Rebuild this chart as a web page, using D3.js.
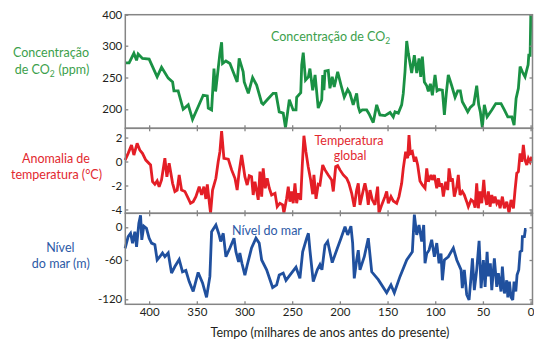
<!DOCTYPE html>
<html><head><meta charset="utf-8">
<script src="https://cdn.jsdelivr.net/npm/d3@7/dist/d3.min.js"></script>
<style>html,body{margin:0;padding:0;background:#fff}svg{display:block}</style>
</head><body>
<svg id="c" width="534" height="339"></svg>
<script>
// ---- data (age in thousand years before present, value) ----
const xTicks = [400, 350, 300, 250, 200, 150, 100, 50, 0];
const co2Ticks = [200, 250, 300, 400];
const tempTicks = [2, 0, -2, -4];
const seaTicks = [0, -60, -120];

const co2Data = [[425.2,273],[421,273],[416,288],[413.2,277],[411.5,287],[407,280],[400,279],[391.6,251],[387,266],[380,249],[375.4,243],[374,229],[369.6,229],[364.3,200],[359,207],[354.5,184],[348.6,204],[343.3,222],[339,221],[338,202],[334.5,199],[332,264],[330.3,228],[325.8,288],[324,311],[323,272],[319.5,276],[315.3,272],[307.7,243],[305.6,280],[301.4,259],[300.3,243],[296,225],[291.5,250],[287.3,238],[282,210],[280.4,208],[275,217],[270,225],[267,225],[263.6,196],[259.4,194],[257,171],[253,215],[249,199],[246,199],[245.3,219],[241,226],[240,270],[238.4,289],[236,246],[233,251],[231.4,264],[228.5,230],[226,254],[222.7,202],[219,215],[218,254],[216.7,230],[215.6,260],[212.2,261],[210.4,233],[208,251],[205.9,235],[202.3,259],[198.8,238],[195.4,219],[191.8,231],[189.4,225],[186,207],[182.4,225],[180.7,204],[179,196],[176.5,199],[171.9,199],[169.5,193],[165,179],[161.4,207],[158,191],[152.7,190],[147.4,195],[144,188],[142.2,196],[138.7,194],[135.2,207],[133.5,225],[131.7,259],[129.9,315],[128.2,288],[124.7,257],[121.9,285],[119.4,257],[117,280],[115.2,251],[113.5,283],[111.4,243],[108.9,237],[107.2,228],[105.1,240],[103,222],[100.2,254],[98.1,229],[96,231],[92.5,230],[90.4,191],[88.4,225],[86.3,254],[82.7,237],[79.2,219],[76.4,229],[73.7,229],[71.6,212],[68.7,204],[65.9,196],[63.2,203],[59.6,208],[56.5,237],[54.4,207],[52.7,196],[50.6,171],[48.5,207],[45.6,188],[40.7,199],[36.5,209],[31,209],[27.5,199],[23.9,188],[19.7,188],[17.3,175],[15.2,217],[12.8,233],[11,267],[8.6,259],[5.8,251],[4,262],[2.6,270],[1.9,285],[0.5,285],[-0.2,400]];

const tempData = [[425.2,0.12],[422,0.68],[418.5,1.38],[416,0.54],[412.6,1.52],[409.8,0.96],[407,0.68],[403.5,0.12],[398.5,-0.29],[396.4,-1.68],[394,-1.9],[391.6,-1.62],[389.5,-2.1],[387,-1.54],[383.5,0.27],[381.4,-1.27],[379,-0.15],[375.4,-1.82],[373,-2.5],[370.6,-2.38],[368.5,-1.12],[366,-2.38],[362.5,-2.5],[359,-3.07],[356.6,-3.48],[353.8,-3.35],[351,-2.93],[347.5,-2.1],[345,-2.79],[342.6,-2.1],[340.5,-3.12],[339,-1.9],[337,-3.35],[335.6,-4.3],[333.5,-2.38],[330,-1.4],[327.6,-0.02],[325.8,0.82],[324,2.54],[321.6,0.27],[317,0.2],[313.5,-0.7],[310,-1.4],[307.7,-2.38],[305.6,-0.85],[303,0.54],[301.4,-0.29],[299.6,-1.27],[297.2,-1.96],[295,-1.18],[292.6,-1.27],[290.9,-2.79],[289,-1.68],[285.6,-3.2],[283.8,-0.85],[282,-2.93],[280.4,-0.57],[278.3,-2.23],[276.2,-1.4],[274,-2.23],[271.6,-2.79],[268,-2.65],[265.7,-3.77],[262.9,-3.48],[260,-3.62],[258.7,-4.3],[255.8,-3.07],[254.1,-2.1],[252.4,-3.35],[250.6,-2.5],[248.9,-3.48],[247.1,-1.82],[245.3,-3.48],[243.6,-2.65],[241.1,-3.2],[239.4,-0.29],[237.7,2.15],[235.6,0.82],[233.2,-0.43],[230.6,-1.54],[228.5,-2.73],[227.2,-1.12],[225,-3.12],[222.7,-1.9],[220.9,-1.96],[218,-0.29],[215.6,-0.7],[212.2,-1.12],[208.6,-1.54],[206.9,-2.5],[204.4,-0.43],[202.3,-0.35],[199.9,-0.7],[196.4,-1.12],[192.9,-1.4],[190.5,-1.82],[187.6,-2.65],[184.9,-3.77],[182.4,-2.38],[180.7,-1.82],[178.9,-3.62],[175.4,-2.38],[173.7,-1.82],[171.9,-2.5],[170.2,-3.62],[168.4,-2.38],[166,-3.2],[163.2,-3.62],[160.4,-2.1],[159,-4.3],[156.1,-3.62],[152.7,-2.93],[150.9,-2.5],[149.2,-3.48],[146.4,-2.93],[144,-3.29],[140.4,-3.48],[138,-2.93],[135.2,-1.82],[133.5,-0.57],[131,0.82],[128.9,0.27],[127.5,2.2],[126.1,0.68],[124,0.82],[121.9,-0.02],[120.5,0.4],[118.4,-0.29],[116,-1.62],[113.5,-1.96],[110.7,-2.23],[108.9,-0.57],[107.2,-1.68],[104.4,-1.12],[103,-1.54],[100.9,-1.12],[98.4,-2.23],[96.7,-1.4],[95,-2.1],[93.2,-1.82],[91.5,-2.93],[89,-1.68],[86.9,-2.38],[85.5,-0.57],[83.4,-1.68],[82,-1.4],[80,-2.93],[77.4,-2.1],[75.8,-1.12],[74,-2.79],[71.6,-2.5],[69.5,-2.79],[67,-3.35],[65.3,-3.77],[62.4,-3.2],[60,-3.35],[58.2,-3.85],[56.5,-1.82],[54.8,-3.9],[53,-2.5],[51.2,-3.48],[49.1,-1.54],[47.7,-2.93],[46,-3.62],[44.3,-2.5],[42.5,-3.77],[40.7,-2.79],[39,-3.48],[37.3,-2.93],[35.5,-3.48],[33.8,-3.2],[32,-3.9],[29.6,-2.93],[27.5,-3.9],[25,-3.35],[22.6,-4.3],[20.5,-3.2],[18,-3.9],[16.3,-2.38],[14.5,-0.98],[12.8,-0.85],[11,0.68],[9.2,-0.02],[7.6,1.38],[5.8,0.12],[4,-0.29],[2.3,0.27],[0.5,-0.02],[-1.3,0.4]];

const seaData = [[425.2,-38.5],[422,-17],[419.5,-11],[417.4,-29],[415,-8],[413.2,-36],[410.8,7],[409,21],[407.7,-23],[405.6,2],[402.8,-2],[400,-20],[397.5,-29],[394,-32],[391.6,-60],[388.8,-54],[386,-47],[383.5,-54],[380,-47],[376.5,-80],[373,-70],[368.5,-59],[365,-78],[361.5,-76],[358,-93],[353.8,-108],[348.6,-79],[344,-95],[339.8,-117],[336.3,-85],[334.5,-8],[330,4],[326.6,-14],[325,-26],[322.3,-11],[319.5,-54],[315.3,-38],[311,-20],[309,-45],[306.2,-63],[304.9,-47],[302.7,-65],[299.6,-83],[297.2,-68],[292.6,-38],[288,-20],[284.6,-29],[282,-60],[276.8,-75],[270.5,-102],[266.3,-98],[263.6,-83],[259.4,-80],[256.5,-91],[252.4,-83],[246,-71],[241.9,-88],[239,-45],[234.8,-20],[233,-11],[231.4,-42],[227.9,-93],[223.7,-75],[220.9,-67],[218.8,-75],[215.6,-33],[212.8,-26],[208,-64],[203.4,-42],[198.8,-20],[194.6,1],[191.8,-14],[188.4,2],[186.6,-29],[184.9,-88],[182.4,-60],[180.7,-42],[178.9,-75],[174.4,-54],[170.2,-20],[166.6,-78],[159.7,-90],[150.9,-110],[146.4,-98],[142.9,-110],[136.9,-85],[129.9,-60],[124,-45],[121.9,22],[119.4,-14],[117,4],[114.2,-26],[112.1,4],[110.7,-65],[108.9,-48],[106.5,-42],[103.7,-23],[100.9,-54],[98.4,-29],[96,-65],[93.9,-48],[92.5,-91],[90.4,-60],[86.3,-54],[81,-38],[77.4,-60],[72.9,-75],[71.6,-103],[69.5,-75],[67,-113],[64.5,-121],[62.4,-85],[61,-57],[59,-106],[56.5,-75],[54,-25],[51.9,-103],[49.5,-60],[47.7,-101],[45.6,-45],[44.3,-85],[42.2,-65],[40.7,-106],[38,-57],[35.5,-101],[33.8,-80],[31,-108],[29.6,-70],[27.5,-111],[25,-91],[23.9,-117],[22.2,-93],[20.5,-117],[18.7,-121],[17.3,-93],[15.5,-108],[14.2,-83],[12.4,-75],[11,-45],[9.2,-43],[8.6,-17],[6.5,-17],[5.5,-4],[4.4,-4]];

// ---- layout ----
const L = 125.3, R = 532.5;
const FONT = "Lato, 'Open Sans', sans-serif";
const FRAME = "#858585";
const svg = d3.select("#c");
svg.append("rect").attr("width",534).attr("height",339).attr("fill","#fff");

const x = d3.scaleLinear().domain([425, -2]).range([L, R]);

const panels = [
  { data: co2Data, top: 14.7, bottom: 128.3,
    y: d3.scaleLinear().domain([170, 200, 300, 400]).range([128.3, 109.3, 45.7, 14.7]),
    ticks: co2Ticks, line: "#1a9144", text: "#3c9f4c", topTicks: false },
  { data: tempData, top: 128.3, bottom: 213.3,
    y: d3.scaleLinear().domain([-4.32, 2.77]).range([213.3, 128.3]),
    ticks: tempTicks, line: "#e41e26", text: "#e2292f", topTicks: true },
  { data: seaData, top: 213.3, bottom: 304.3,
    y: d3.scaleLinear().domain([-127.3, -120, -60, 0, 24.4]).range([304.3, 299.3, 260, 227.3, 213.3]),
    ticks: seaTicks, line: "#20509e", text: "#2d5aa6", topTicks: true }
];

panels.forEach(p => {
  const line = d3.line().x(d => x(d[0])).y(d => p.y(d[1]));
  svg.append("path").datum(p.data).attr("d", line)
    .attr("fill","none").attr("stroke", p.line).attr("stroke-width", 2.8)
    .attr("stroke-linejoin","miter").attr("stroke-miterlimit", 3);

  const gl = svg.append("g").attr("transform", `translate(${L},0)`)
    .call(d3.axisLeft(p.y).tickValues(p.ticks).tickSizeInner(-3).tickSizeOuter(0).tickPadding(3).tickFormat(d => String(d)));
  const gr = svg.append("g").attr("transform", `translate(${R},0)`)
    .call(d3.axisRight(p.y).tickValues(p.ticks).tickSizeInner(-3).tickSizeOuter(0).tickFormat(""));
  const gb = svg.append("g").attr("transform", `translate(0,${p.bottom})`)
    .call(d3.axisBottom(x).tickValues(xTicks).tickSizeInner(-3).tickSizeOuter(0).tickFormat(""));
  const gs = [gl, gr, gb];
  if (p.topTicks) {
    gs.push(svg.append("g").attr("transform", `translate(0,${p.top})`)
      .call(d3.axisTop(x).tickValues(xTicks).tickSizeInner(-3).tickSizeOuter(0).tickFormat("")));
  }
  gs.forEach(g => {
    g.select(".domain").remove();
    g.selectAll(".tick line").attr("stroke", FRAME).attr("stroke-width", 1.3);
    g.selectAll(".tick text").attr("fill", "#231f20").style("font-family", FONT).style("font-size", "11.5px");
  });
  svg.append("rect").attr("x", L).attr("y", p.top).attr("width", R - L).attr("height", p.bottom - p.top)
    .attr("fill","none").attr("stroke", FRAME).attr("stroke-width", 1.5);
});

const gx = svg.append("g").attr("transform", `translate(0,${panels[2].bottom})`)
  .call(d3.axisBottom(x).tickValues(xTicks).tickSize(0).tickPadding(3.5).tickFormat(d => String(d)));
gx.select(".domain").remove();
gx.selectAll(".tick text").attr("fill","#231f20").style("font-family", FONT).style("font-size","11.5px");

function label(xp, yp, parts, color, size) {
  const t = svg.append("text").attr("x", xp).attr("y", yp).attr("text-anchor","middle")
    .attr("fill", color).style("font-family", FONT).style("font-size", size + "px");
  parts.forEach(pt => {
    if (typeof pt === "string") t.append("tspan").text(pt);
    else {
      t.append("tspan").attr("dy", size * 0.22).style("font-size", (size * 0.68) + "px").text(pt.sub);
      t.append("tspan").attr("dy", -size * 0.22).text("\u200A");
    }
  });
  return t;
}
const fs = 12.5;
label(51, 57, ["Concentração"], panels[0].text, fs);
label(52, 74, ["de CO", {sub:"2"}, " (ppm)"], panels[0].text, fs);
label(56, 162.5, ["Anomalia de"], panels[1].text, fs);
label(56.5, 178.5, ["temperatura (°C)"], panels[1].text, fs);
label(60.3, 251.5, ["Nível"], panels[2].text, fs);
label(60.8, 267.5, ["do mar (m)"], panels[2].text, fs);
label(331, 41, ["Concentração de CO", {sub:"2"}], panels[0].text, fs);
label(349, 144.5, ["Temperatura"], panels[1].text, fs);
label(350, 160, ["global"], panels[1].text, fs);
label(267, 234.5, ["Nível do mar"], panels[2].text, fs);
label(330, 337, ["Tempo (milhares de anos antes do presente)"], "#231f20", fs);
</script>
</body></html>
